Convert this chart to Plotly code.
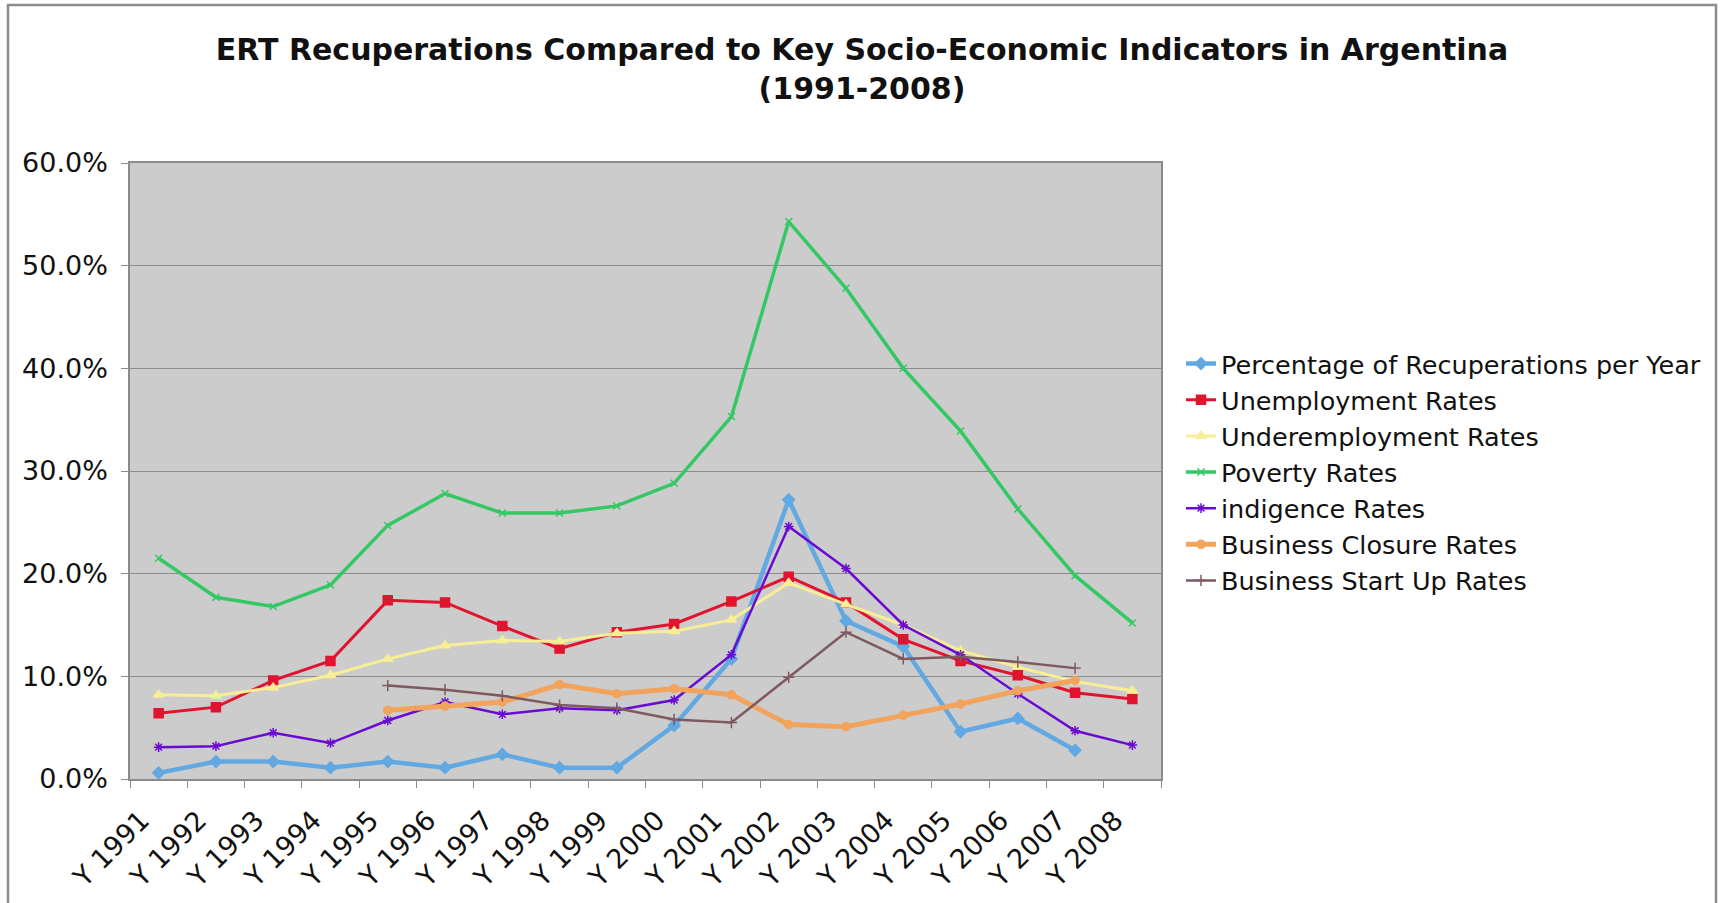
import plotly.graph_objects as go

years = ["Y 1991", "Y 1992", "Y 1993", "Y 1994", "Y 1995", "Y 1996", "Y 1997", "Y 1998", "Y 1999",
         "Y 2000", "Y 2001", "Y 2002", "Y 2003", "Y 2004", "Y 2005", "Y 2006", "Y 2007", "Y 2008"]

recuperations = [0.6, 1.7, 1.7, 1.1, 1.7, 1.1, 2.4, 1.1, 1.1, 5.2, 11.7, 27.2, 15.4, 12.9, 4.6, 5.9, 2.8, None]
unemployment = [6.4, 7.0, 9.6, 11.5, 17.4, 17.2, 14.9, 12.7, 14.3, 15.1, 17.3, 19.7, 17.2, 13.6, 11.5, 10.1, 8.4, 7.8]
underemployment = [8.2, 8.1, 8.9, 10.1, 11.7, 13.0, 13.5, 13.4, 14.2, 14.4, 15.5, 19.1, 17.0, 15.0, 12.5, 10.9, 9.5, 8.6]
poverty = [21.5, 17.7, 16.8, 18.9, 24.7, 27.8, 25.9, 25.9, 26.6, 28.8, 35.3, 54.3, 47.8, 40.0, 33.9, 26.3, 19.8, 15.2]
indigence = [3.1, 3.2, 4.5, 3.5, 5.7, 7.5, 6.3, 6.9, 6.7, 7.7, 12.1, 24.6, 20.5, 15.0, 12.1, 8.3, 4.7, 3.3]
closure = [None, None, None, None, 6.7, 7.1, 7.5, 9.2, 8.3, 8.8, 8.2, 5.3, 5.1, 6.2, 7.3, 8.6, 9.6, None]
startup = [None, None, None, None, 9.1, 8.7, 8.1, 7.2, 6.9, 5.8, 5.5, 9.9, 14.3, 11.7, 11.9, 11.4, 10.8, None]

series = [
    ("Percentage of Recuperations per Year", recuperations, "#62A8E2", 4.5, "diamond", 9),
    ("Unemployment Rates", unemployment, "#E0142F", 3, "square", 9),
    ("Underemployment Rates", underemployment, "#F8EE95", 3, "triangle-up", 9),
    ("Poverty Rates", poverty, "#34C865", 3.5, "x-thin-open", 7),
    ("indigence Rates", indigence, "#6A0AD2", 2.5, "asterisk-open", 8),
    ("Business Closure Rates", closure, "#F2A35C", 5, "circle", 8),
    ("Business Start Up Rates", startup, "#7E5A60", 2.5, "cross-thin-open", 8),
]

FONT = "DejaVu Sans"
LABEL_SHIFT = 0.3  # tick labels sit slightly left of category centre, as in the original

fig = go.Figure()
for i, (name, vals, color, width, sym, size) in enumerate(series):
    fig.add_trace(go.Scatter(
        x=years, y=vals, name=name, mode="lines+markers",
        line=dict(color=color, width=width),
        marker=dict(symbol=sym, size=size, color=color,
                    line=dict(color=color, width=1.5)),
        connectgaps=False,
    ))

# helper (empty) trace so the label axis is rendered
fig.add_trace(go.Scatter(x=[], y=[], xaxis="x2", showlegend=False, hoverinfo="skip"))

W, H = 1726, 903
L, R, T, B = 130, 1161, 163, 779
pw, ph = R - L, B - T

def px(x):
    return (x - L) / pw

def py(y):
    return (B - y) / ph

fig.update_layout(
    width=W, height=H,
    margin=dict(l=L, r=W - R, t=T, b=H - B, autoexpand=False),
    paper_bgcolor="white",
    plot_bgcolor="#CCCCCC",
    font=dict(family=FONT, color="#111111"),
    title=dict(
        text="<b>ERT Recuperations Compared to Key Socio-Economic Indicators in Argentina<br>(1991-2008)</b>",
        x=862 / W, xanchor="center", xref="container",
        y=1 - 59.5 / H, yanchor="top", yref="container",
        font=dict(family=FONT, size=30, color="#111111"),
    ),
    showlegend=True,
    legend=dict(
        x=px(1181), xanchor="left",
        y=py(340.5), yanchor="top",
        font=dict(family=FONT, size=25.5, color="#111111"),
        bgcolor="rgba(0,0,0,0)",
        itemwidth=30,
    ),
    xaxis=dict(
        type="category", automargin=False,
        showgrid=False,
        showline=True, linecolor="#8A8A8A", linewidth=1.5, mirror=True,
        ticks="outside", ticklen=7, tickcolor="#8A8A8A", tickson="boundaries",
        showticklabels=False,
        range=[-0.5, 17.5],
    ),
    xaxis2=dict(
        overlaying="x", side="bottom", anchor="y", automargin=False,
        type="linear", range=[-0.5, 17.5],
        tickmode="array",
        tickvals=[i - LABEL_SHIFT for i in range(len(years))],
        ticktext=years,
        tickangle=-45,
        ticks="", showline=False, showgrid=False, zeroline=False,
        tickfont=dict(family=FONT, size=27, color="#111111"),
        ticklabelstandoff=19,
    ),
    yaxis=dict(
        range=[0, 60], dtick=10, tick0=0, automargin=False,
        tickformat=".1f", ticksuffix="%",
        showgrid=True, gridcolor="#8C8C8C", gridwidth=1.2,
        showline=True, linecolor="#8A8A8A", linewidth=1.5, mirror=True,
        ticks="outside", ticklen=7, tickcolor="#8A8A8A",
        tickfont=dict(family=FONT, size=27, color="#111111"),
        ticklabelstandoff=8,
        zeroline=False,
    ),
    shapes=[dict(
        type="rect", xref="paper", yref="paper",
        x0=px(8), x1=px(1716), y0=py(920), y1=py(5),
        line=dict(color="#8C8C8C", width=2.5),
        fillcolor="rgba(0,0,0,0)", layer="below",
    )],
)

fig.write_html("out.html")
